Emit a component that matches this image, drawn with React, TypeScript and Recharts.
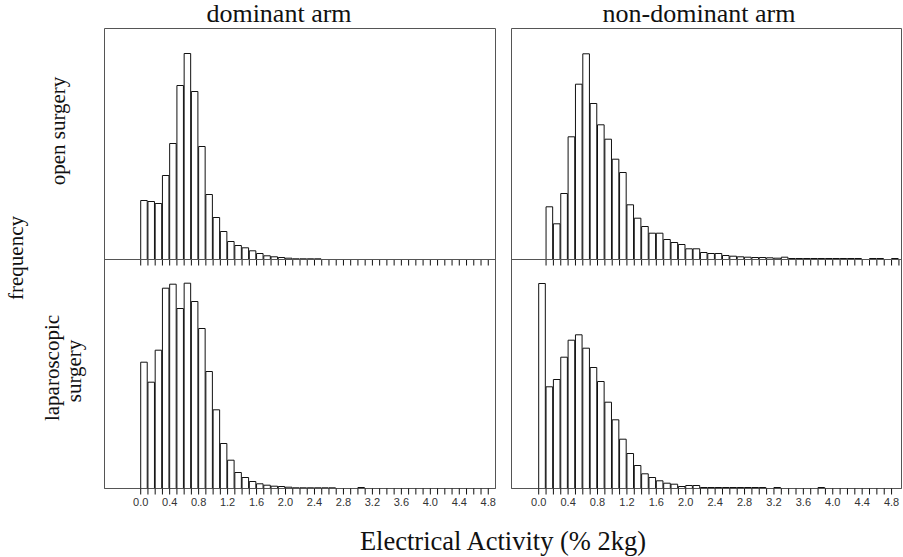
import { ComposedChart, Bar, XAxis, YAxis, ReferenceArea } from "recharts";

// bin starts (width 0.1)
const BINS = [
  0.0, 0.1, 0.2, 0.3, 0.4, 0.5, 0.6, 0.7, 0.8, 0.9,
  1.0, 1.1, 1.2, 1.3, 1.4, 1.5, 1.6, 1.7, 1.8, 1.9,
  2.0, 2.1, 2.2, 2.3, 2.4, 2.5, 2.6, 2.7, 2.8, 2.9,
  3.0, 3.1, 3.2, 3.3, 3.4, 3.5, 3.6, 3.7, 3.8, 3.9,
  4.0, 4.1, 4.2, 4.3, 4.4, 4.5, 4.6, 4.7, 4.8,
];

const EDGES = [...BINS, 4.9];
const TICK_LABELS = [0.0, 0.4, 0.8, 1.2, 1.6, 2.0, 2.4, 2.8, 3.2, 3.6, 4.0, 4.4, 4.8];

// frequencies (arbitrary units)
const openDominant = [
  59, 58, 56, 84, 116, 174, 206, 168, 113, 65,
  42, 28, 18, 14, 11.7, 8.7, 6, 3.7, 2.7, 2,
  1.3, 0.7, 0.7, 0.7, 0.7, 0, 0, 0, 0, 0,
  0, 0, 0, 0, 0, 0, 0, 0, 0, 0,
  0, 0, 0, 0, 0, 0, 0, 0, 0,
];
const openNonDominant = [
  0, 52.7, 35.7, 66, 122.7, 175.3, 205.7, 156, 134.7, 120.3,
  100.3, 87, 54.7, 41.3, 33, 26.3, 26.3, 20, 17, 15,
  10.7, 10.7, 7, 6, 6, 4, 3.3, 2.7, 2.3, 2,
  2, 1.7, 1.3, 2.3, 1, 1, 1, 1, 1, 1,
  1, 1, 1, 1, 0, 1, 1, 0, 1,
];
const lapDominant = [
  126.3, 106.3, 138.3, 200.3, 204.3, 180, 205.3, 187, 160, 117,
  78.7, 45, 28.3, 16, 11, 7, 4.7, 3.3, 2.3, 2,
  1.3, 0.7, 0.7, 0.7, 0.7, 0.7, 0.7, 0, 0, 0,
  1, 0, 0, 0, 0, 0, 0, 0, 0, 0,
  0, 0, 0, 0, 0, 0, 0, 0, 0,
];
const lapNonDominant = [
  205, 101.7, 109, 131.3, 148.3, 153.7, 140.3, 121, 107, 86.3,
  68.7, 49.3, 35, 23, 14.7, 11, 7.7, 5.3, 4.3, 2,
  3, 3, 1, 1, 1, 1, 1, 1, 1, 1,
  1, 0, 1, 0, 0, 0, 0, 0, 1, 0,
  0, 0, 0, 0, 0, 0, 0, 0, 0,
];

const toRows = (vals: number[]) => BINS.map((b, i) => ({ x: b + 0.05, v: vals[i] }));

const serif = '"Liberation Serif", "Times New Roman", serif';
const sans = '"Liberation Sans", Arial, sans-serif';

function Panel({
  vals,
  left,
  top,
  width,
  height,
  domain,
  ticks,
  showLabels,
  yMax,
}: {
  vals: number[];
  left: number;
  top: number;
  width: number;
  height: number;
  domain: [number, number];
  ticks: number[];
  showLabels: boolean;
  yMax: number;
}) {
  const m = 2.5;
  const barW = (0.1 * width) / (domain[1] - domain[0]);
  return (
    <div style={{ position: "absolute", left: left - m, top: top - m }}>
      <ComposedChart
        width={width + 2 * m}
        height={height + m + 30}
        data={toRows(vals)}
        margin={{ top: m, right: m, bottom: 0, left: m }}
      >
        <XAxis
          dataKey="x"
          type="number"
          domain={domain}
          allowDataOverflow
          ticks={ticks}
          interval={0}
          height={30}
          tickSize={6}
          tickMargin={4}
          stroke="#555"
          tickLine={{ stroke: "#111" }}
          tick={{ fontSize: 11, fontFamily: sans, fill: "#333" }}
          tickFormatter={(v: number) =>
            showLabels && TICK_LABELS.some((t) => Math.abs(t - v) < 1e-6) ? v.toFixed(1) : ""
          }
        />
        <YAxis domain={[0, yMax]} hide allowDataOverflow />
        <Bar dataKey="v" barSize={barW} fill="#fff" stroke="#111" strokeWidth={1} isAnimationActive={false} />
        <ReferenceArea
          x1={domain[0]}
          x2={domain[1]}
          y1={0}
          y2={yMax}
          fill="none"
          fillOpacity={0}
          stroke="#555"
          strokeWidth={1}
          ifOverflow="visible"
        />
      </ComposedChart>
    </div>
  );
}

export default function App() {
  const L = { left: 104.5, width: 391, domain: [-0.5, 4.9] as [number, number] };
  const R = { left: 511.5, width: 390, domain: [-0.37, 4.935] as [number, number] };
  const topY = 28.5;
  const midY = 259.5;
  const topH = 231;
  const botH = 229;
  return (
    <div style={{ position: "absolute", left: 0, top: 0, width: 903, height: 557, background: "#fff" }}>
      <Panel vals={openDominant} left={L.left} top={topY} width={L.width} height={topH} domain={L.domain} ticks={EDGES.slice(0, 49)} showLabels={false} yMax={topH} />
      <Panel vals={openNonDominant} left={R.left} top={topY} width={R.width} height={topH} domain={R.domain} ticks={EDGES.slice(1)} showLabels={false} yMax={topH} />
      <Panel vals={lapDominant} left={L.left} top={midY} width={L.width} height={botH} domain={L.domain} ticks={EDGES.slice(0, 49)} showLabels yMax={botH} />
      <Panel vals={lapNonDominant} left={R.left} top={midY} width={R.width} height={botH} domain={R.domain} ticks={EDGES.slice(0, 49)} showLabels yMax={botH} />
      <svg width={903} height={557} style={{ position: "absolute", left: 0, top: 0, pointerEvents: "none" }}>
        <g fontFamily={serif} fill="#111">
          <text x={279} y={22} fontSize={26} textAnchor="middle">dominant arm</text>
          <text x={699} y={22} fontSize={26} textAnchor="middle">non-dominant arm</text>
          <text x={503} y={550} fontSize={26.5} textAnchor="middle">Electrical Activity (% 2kg)</text>
          <text transform="translate(16,258) rotate(-90)" fontSize={21} textAnchor="middle" dominantBaseline="central">frequency</text>
          <text transform="translate(58,131) rotate(-90)" fontSize={21} textAnchor="middle" dominantBaseline="central">open surgery</text>
          <text transform="translate(52,368) rotate(-90)" fontSize={21} textAnchor="middle" dominantBaseline="central">laparoscopic</text>
          <text transform="translate(74,371) rotate(-90)" fontSize={21} textAnchor="middle" dominantBaseline="central">surgery</text>
        </g>
      </svg>
    </div>
  );
}
